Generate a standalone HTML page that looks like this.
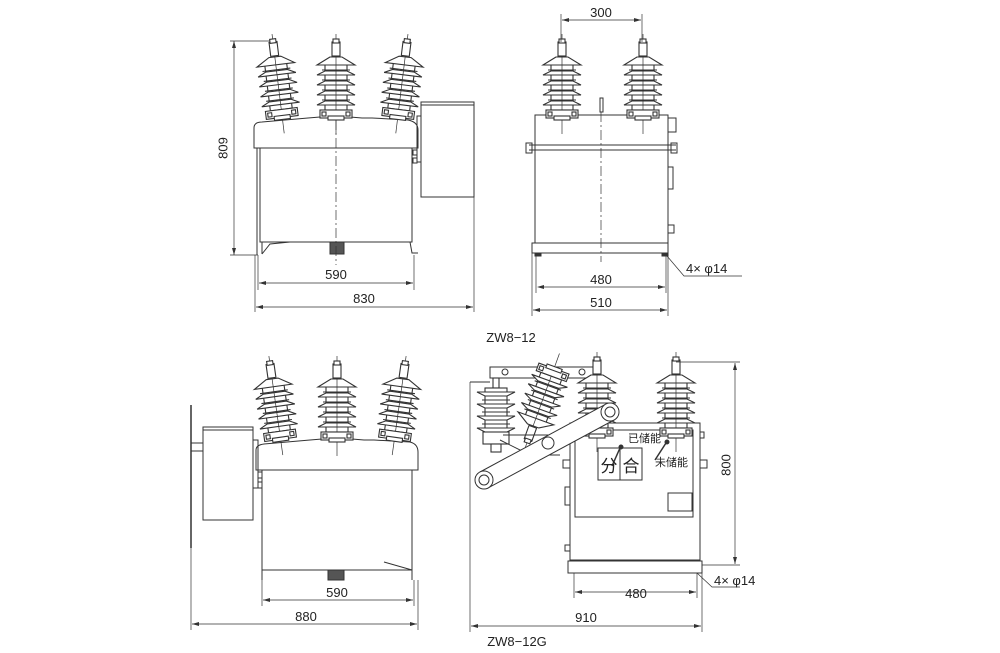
<!DOCTYPE html>
<html><head><meta charset="utf-8"><style>
html,body{margin:0;padding:0;background:#fff;}
svg{display:block;}
text{font-family:"Liberation Sans","Noto Sans CJK SC",sans-serif;fill:#222;}
</style></head><body>
<svg width="1000" height="653" viewBox="0 0 1000 653" xmlns="http://www.w3.org/2000/svg">
<defs>
<g id="ins" fill="#fff" stroke="#333" stroke-width="1.1">
  <line x1="0" y1="-8" x2="0" y2="92" stroke-width="0.7"/>
  <rect x="-4" y="0" width="8" height="14"/>
  <rect x="-3" y="-3" width="6" height="4"/>
  <rect x="-11" y="22" width="22" height="46"/>
  <path d="M-6,15 L-19,23 L19,23 L6,15 Z"/>
  <path d="M-19,33 L-11,29 L11,29 L19,33 Z M-19,43 L-11,39 L11,39 L19,43 Z M-19,53 L-11,49 L11,49 L19,53 Z M-19,63 L-11,59 L11,59 L19,63 Z"/>
  <path d="M-14,28 L14,28 M-14,38 L14,38 M-14,48 L14,48 M-14,58 L14,58"/>
  <line x1="0" y1="14" x2="0" y2="68" stroke-width="0.7"/>
  <rect x="-16" y="68" width="32" height="8"/>
  <rect x="-14" y="70" width="4" height="4"/><rect x="10" y="70" width="4" height="4"/>
  <rect x="-8" y="74" width="16" height="4"/>
</g>
<g id="insd" fill="#fff" stroke="#333" stroke-width="1.1">
  <rect x="-3" y="0" width="6" height="10"/>
  <rect x="-11" y="10" width="22" height="44"/>
  <path d="M-19,14 L-11,18 L11,18 L19,14 Z M-19,26 L-11,30 L11,30 L19,26 Z M-19,38 L-11,42 L11,42 L19,38 Z M-19,50 L-11,54 L11,54 L19,50 Z"/>
  <path d="M-14,22 L14,22 M-14,34 L14,34 M-14,46 L14,46"/>
  <rect x="-13" y="54" width="26" height="12"/>
  <rect x="-5" y="66" width="10" height="8"/>
</g>
</defs>
<g fill="none" stroke="#333" stroke-width="1">

<!-- ============ VIEW 1 ============ -->
<path d="M254,148 L254,128 Q254,122 262,122 L308,118 L320,117 L350,117 L362,118 L372,118 L408,120 Q418,122 418,130 L418,148 Z" fill="#fff"/>
<line x1="254" y1="148" x2="418" y2="148"/>
<rect x="260" y="148" width="152" height="94"/>
<line x1="257" y1="148" x2="257" y2="255"/>
<line x1="262" y1="242" x2="262" y2="254"/>
<path d="M262,254 L270,244 L290,242"/>
<path d="M410,242 L412,253 L418,253"/>
<rect x="330" y="242" width="14" height="12" fill="#555"/>
<rect x="417" y="116" width="4" height="46"/>
<rect x="421" y="102" width="53" height="95"/>
<line x1="421" y1="105" x2="474" y2="105"/>
<rect x="413" y="150" width="4" height="5"/><rect x="413" y="158" width="4" height="5"/>
<use href="#ins" transform="translate(273,42) rotate(-7)"/>
<use href="#ins" transform="translate(336,42)"/>
<use href="#ins" transform="translate(407,42) rotate(7)"/>
<line x1="336" y1="120" x2="336" y2="265" stroke-dasharray="10,3,2,3" stroke-width="0.7"/>
<line x1="230" y1="41" x2="270" y2="41" stroke-width="0.7"/>
<line x1="230" y1="255" x2="258" y2="255" stroke-width="0.7"/>
<line x1="234" y1="41" x2="234" y2="255" stroke-width="0.7"/>
<line x1="258" y1="255" x2="258" y2="290" stroke-width="0.7"/>
<line x1="414" y1="255" x2="414" y2="290" stroke-width="0.7"/>
<line x1="259" y1="283" x2="413" y2="283" stroke-width="0.7"/>
<line x1="255" y1="255" x2="255" y2="312" stroke-width="0.7"/>
<line x1="474" y1="197" x2="474" y2="312" stroke-width="0.7"/>
<line x1="256" y1="307" x2="473" y2="307" stroke-width="0.7"/>

<!-- ============ VIEW 2 ============ -->
<rect x="535" y="115" width="133" height="128" fill="#fff"/>
<line x1="529" y1="145" x2="676" y2="145"/><line x1="529" y1="150" x2="676" y2="150"/>
<rect x="526" y="143" width="6" height="10"/><rect x="671" y="143" width="6" height="10"/>
<rect x="668" y="118" width="8" height="14"/>
<rect x="668" y="167" width="5" height="22"/>
<rect x="668" y="225" width="6" height="8"/>
<rect x="532" y="243" width="136" height="10"/>
<rect x="535" y="253" width="6" height="3" fill="#333"/><rect x="662" y="253" width="6" height="3" fill="#333"/>
<rect x="600" y="98" width="3" height="14"/>
<use href="#ins" transform="translate(562,42)"/>
<use href="#ins" transform="translate(643,42)"/>
<line x1="601" y1="112" x2="601" y2="262" stroke-dasharray="10,3,2,3" stroke-width="0.7"/>
<line x1="561" y1="14" x2="561" y2="42" stroke-width="0.7"/>
<line x1="642" y1="14" x2="642" y2="42" stroke-width="0.7"/>
<line x1="562" y1="20" x2="641" y2="20" stroke-width="0.7"/>
<line x1="536" y1="256" x2="536" y2="293" stroke-width="0.7"/>
<line x1="666" y1="256" x2="666" y2="293" stroke-width="0.7"/>
<line x1="539" y1="287" x2="665" y2="287" stroke-width="0.7"/>
<line x1="532" y1="253" x2="532" y2="316" stroke-width="0.7"/>
<line x1="668" y1="253" x2="668" y2="316" stroke-width="0.7"/>
<line x1="533" y1="310" x2="667" y2="310" stroke-width="0.7"/>
<path d="M667,256 L684,276 L742,276" stroke-width="0.7"/>

<!-- ============ VIEW 3 ============ -->
<path d="M256,470 L256,450 Q256,445 264,444 L310,440 L322,439 L352,439 L364,440 L374,440 L410,442 Q418,444 418,452 L418,470 Z" fill="#fff"/>
<rect x="262" y="470" width="150" height="100"/>
<line x1="262" y1="570" x2="262" y2="580"/><line x1="412" y1="570" x2="412" y2="580"/>
<path d="M384,562 L412,570"/>
<rect x="328" y="570" width="16" height="10" fill="#555"/>
<line x1="191" y1="405" x2="191" y2="548" stroke-width="1.5"/>
<rect x="191" y="443" width="12" height="8"/>
<rect x="203" y="427" width="50" height="93"/>
<line x1="203" y1="430" x2="253" y2="430"/>
<rect x="253" y="440" width="5" height="48"/>
<rect x="258" y="472" width="4" height="6"/><rect x="258" y="482" width="4" height="6"/>
<use href="#ins" transform="translate(270,364) rotate(-8)"/>
<use href="#ins" transform="translate(337,364)"/>
<use href="#ins" transform="translate(405,364) rotate(8)"/>
<line x1="262" y1="580" x2="262" y2="606" stroke-width="0.7"/>
<line x1="414" y1="580" x2="414" y2="606" stroke-width="0.7"/>
<line x1="263" y1="600" x2="413" y2="600" stroke-width="0.7"/>
<line x1="191" y1="548" x2="191" y2="630" stroke-width="0.7"/>
<line x1="418" y1="580" x2="418" y2="630" stroke-width="0.7"/>
<line x1="192" y1="624" x2="417" y2="624" stroke-width="0.7"/>

<!-- ============ VIEW 4 ============ -->
<rect x="570" y="423" width="130" height="137" fill="#fff"/>
<rect x="575" y="430" width="118" height="87"/>
<rect x="568" y="561" width="134" height="12"/>
<rect x="565" y="487" width="5" height="18"/>
<rect x="565" y="545" width="5" height="6"/>
<rect x="563" y="460" width="7" height="8"/><rect x="700" y="460" width="7" height="8"/>
<rect x="700" y="432" width="4" height="6"/>
<rect x="598" y="448" width="44" height="32"/><line x1="620" y1="448" x2="620" y2="480"/>
<rect x="668" y="493" width="24" height="18"/>
<line x1="612" y1="466" x2="620" y2="448" stroke-width="1.5"/>
<circle cx="621" cy="447" r="2" fill="#333"/>
<line x1="655" y1="460" x2="666" y2="443" stroke-width="1.5"/>
<circle cx="667" cy="442" r="2" fill="#333"/>
<rect x="490" y="367" width="110" height="11" fill="#fff"/>
<circle cx="505" cy="372" r="3"/><circle cx="582" cy="372" r="3"/><circle cx="550" cy="372" r="1.5"/>
<use href="#insd" transform="translate(496,378)"/>
<line x1="470" y1="382" x2="490" y2="382"/>
<use href="#ins" transform="translate(528,440) rotate(-160)"/>
<path d="M503,435 L570,435 L570,445 M500,440 L530,455 L560,455"/>
<use href="#ins" transform="translate(597,360)"/>
<use href="#ins" transform="translate(676,360)"/>
<path d="M480,472 L606,404 L614,420 L488,488 Z" fill="#fff"/>
<circle cx="484" cy="480" r="9" fill="#fff"/><circle cx="484" cy="480" r="5"/>
<circle cx="610" cy="412" r="9" fill="#fff"/><circle cx="610" cy="412" r="5"/>
<circle cx="548" cy="443" r="6" fill="#fff"/>
<line x1="676" y1="362" x2="740" y2="362" stroke-width="0.7"/>
<line x1="702" y1="565" x2="740" y2="565" stroke-width="0.7"/>
<line x1="735" y1="363" x2="735" y2="564" stroke-width="0.7"/>
<line x1="574" y1="573" x2="574" y2="598" stroke-width="0.7"/>
<line x1="697" y1="573" x2="697" y2="598" stroke-width="0.7"/>
<line x1="575" y1="592" x2="696" y2="592" stroke-width="0.7"/>
<line x1="470" y1="382" x2="470" y2="632" stroke-width="0.7"/>
<line x1="702" y1="573" x2="702" y2="632" stroke-width="0.7"/>
<line x1="471" y1="626" x2="701" y2="626" stroke-width="0.7"/>
<path d="M697,573 L712,587 L740,587" stroke-width="0.7"/>
</g>
<g fill="#333">
<path d="M234,41 l-2,7 h4z M234,255 l-2,-7 h4z"/>
<path d="M259,283 l7,-2 v4z M413,283 l-7,-2 v4z M256,307 l7,-2 v4z M473,307 l-7,-2 v4z"/>
<path d="M562,20 l7,-2 v4z M641,20 l-7,-2 v4z M537,287 l7,-2 v4z M665,287 l-7,-2 v4z M533,310 l7,-2 v4z M667,310 l-7,-2 v4z"/>
<path d="M263,600 l7,-2 v4z M413,600 l-7,-2 v4z M192,624 l7,-2 v4z M417,624 l-7,-2 v4z"/>
<path d="M735,363 l-2,7 h4z M735,564 l-2,-7 h4z M575,592 l7,-2 v4z M696,592 l-7,-2 v4z M471,626 l7,-2 v4z M701,626 l-7,-2 v4z"/>
</g>
<g font-size="13">
<text x="224" y="148" transform="rotate(-90 224 148)" text-anchor="middle" dominant-baseline="middle">809</text>
<text x="336" y="279" text-anchor="middle">590</text>
<text x="364" y="303" text-anchor="middle">830</text>
<text x="601" y="17" text-anchor="middle">300</text>
<text x="601" y="284" text-anchor="middle">480</text>
<text x="601" y="307" text-anchor="middle">510</text>
<text x="686" y="273">4× φ14</text>
<text x="511" y="342" text-anchor="middle">ZW8−12</text>
<text x="337" y="597" text-anchor="middle">590</text>
<text x="306" y="621" text-anchor="middle">880</text>
<text x="727" y="465" transform="rotate(-90 727 465)" text-anchor="middle" dominant-baseline="middle">800</text>
<text x="636" y="598" text-anchor="middle">480</text>
<text x="586" y="622" text-anchor="middle">910</text>
<text x="714" y="585">4× φ14</text>
<text x="517" y="646" text-anchor="middle">ZW8−12G</text>
</g>
<text x="609" y="472" font-size="17" text-anchor="middle">分</text>
<text x="631" y="472" font-size="17" text-anchor="middle">合</text>
<text x="628" y="442" font-size="11">已储能</text>
<text x="655" y="466" font-size="11">未储能</text>
</svg>
</body></html>
